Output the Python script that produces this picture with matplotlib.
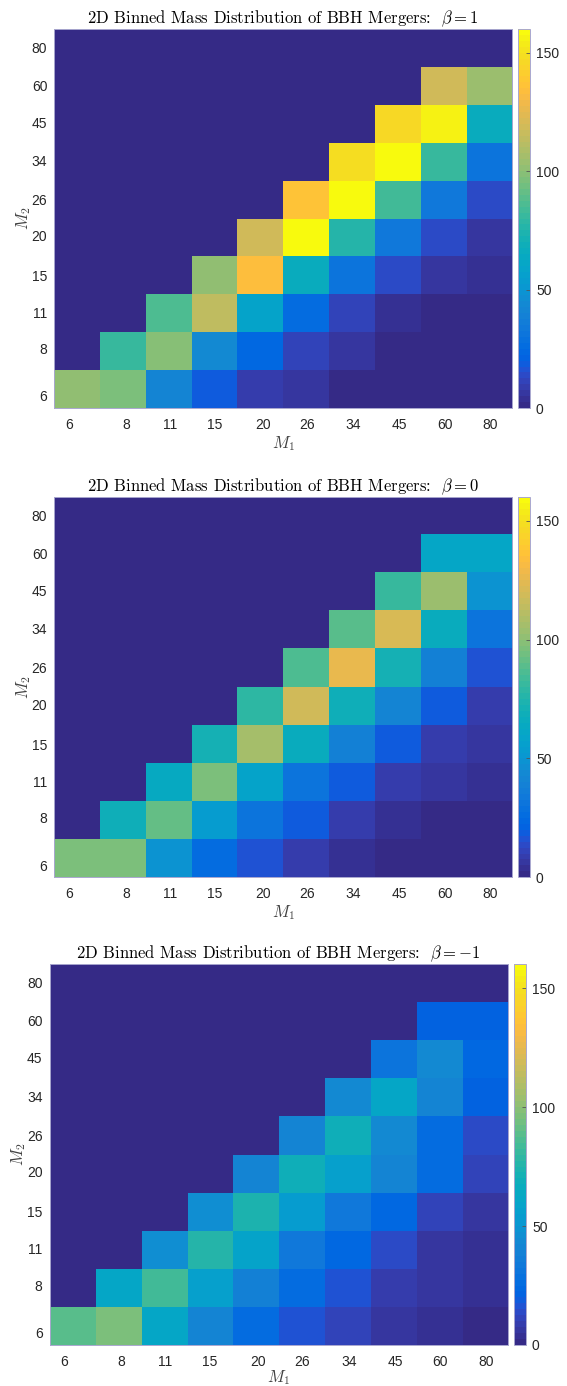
import numpy as np
import matplotlib
matplotlib.use("Agg")
import matplotlib.pyplot as plt
from matplotlib.colors import ListedColormap

plt.rcParams["font.family"] = ["Liberation Sans", "DejaVu Sans"]
plt.rcParams["mathtext.fontset"] = "cm"

# MATLAB parula, 64 levels
parula = ListedColormap([
    [0.2081, 0.1663, 0.5292], [0.2116, 0.1898, 0.5777], [0.2123, 0.2138, 0.6270],
    [0.2081, 0.2386, 0.6771], [0.1959, 0.2645, 0.7279], [0.1707, 0.2919, 0.7792],
    [0.1253, 0.3242, 0.8303], [0.0591, 0.3598, 0.8683], [0.0117, 0.3875, 0.8820],
    [0.0060, 0.4086, 0.8828], [0.0165, 0.4266, 0.8786], [0.0329, 0.4430, 0.8720],
    [0.0498, 0.4586, 0.8641], [0.0629, 0.4737, 0.8554], [0.0723, 0.4887, 0.8467],
    [0.0779, 0.5040, 0.8384], [0.0793, 0.5200, 0.8312], [0.0749, 0.5375, 0.8263],
    [0.0641, 0.5570, 0.8240], [0.0488, 0.5772, 0.8228], [0.0343, 0.5966, 0.8199],
    [0.0265, 0.6137, 0.8135], [0.0239, 0.6287, 0.8038], [0.0231, 0.6418, 0.7913],
    [0.0228, 0.6535, 0.7768], [0.0267, 0.6642, 0.7607], [0.0384, 0.6743, 0.7436],
    [0.0590, 0.6838, 0.7254], [0.0843, 0.6928, 0.7062], [0.1133, 0.7015, 0.6859],
    [0.1453, 0.7098, 0.6646], [0.1801, 0.7177, 0.6424], [0.2178, 0.7250, 0.6193],
    [0.2586, 0.7317, 0.5954], [0.3022, 0.7376, 0.5712], [0.3482, 0.7424, 0.5473],
    [0.3953, 0.7459, 0.5244], [0.4420, 0.7481, 0.5033], [0.4871, 0.7491, 0.4840],
    [0.5300, 0.7491, 0.4661], [0.5709, 0.7485, 0.4494], [0.6099, 0.7473, 0.4337],
    [0.6473, 0.7456, 0.4188], [0.6834, 0.7435, 0.4044], [0.7184, 0.7411, 0.3905],
    [0.7525, 0.7384, 0.3768], [0.7858, 0.7356, 0.3633], [0.8185, 0.7327, 0.3498],
    [0.8507, 0.7299, 0.3360], [0.8824, 0.7274, 0.3217], [0.9139, 0.7258, 0.3063],
    [0.9450, 0.7261, 0.2886], [0.9739, 0.7314, 0.2666], [0.9938, 0.7455, 0.2403],
    [0.9990, 0.7653, 0.2164], [0.9955, 0.7861, 0.1967], [0.9880, 0.8066, 0.1794],
    [0.9789, 0.8271, 0.1633], [0.9697, 0.8481, 0.1475], [0.9626, 0.8705, 0.1309],
    [0.9589, 0.8949, 0.1132], [0.9598, 0.9218, 0.0948], [0.9661, 0.9514, 0.0755],
    [0.9763, 0.9831, 0.0538],
])

mass_labels = ["6", "8", "11", "15", "20", "26", "34", "45", "60", "80"]

# merger counts: rows are M2 bins (6 first), columns are M1 bins
counts_beta_1 = [
    [101, 96, 41, 19, 9, 5, 1, 1, 1, 1],
    [0, 81, 98, 44, 24, 11, 6, 1.5, 1, 1],
    [0, 0, 87, 114, 58, 27, 12, 4, 1.5, 1.5],
    [0, 0, 0, 101, 134, 65, 31, 14, 5, 3],
    [0, 0, 0, 0, 119, 158, 76, 34, 14, 5],
    [0, 0, 0, 0, 0, 136, 158, 84, 34, 14],
    [0, 0, 0, 0, 0, 0, 149, 158, 81, 31],
    [0, 0, 0, 0, 0, 0, 0, 146, 157, 66],
    [0, 0, 0, 0, 0, 0, 0, 0, 119, 104],
    [0, 0, 0, 0, 0, 0, 0, 0, 0, 0],
]
counts_beta_0 = [
    [96, 96, 49, 27, 16, 9, 4, 1, 1, 1],
    [0, 69, 91, 54, 32, 19, 9, 4, 2, 2],
    [0, 0, 64, 97, 59, 32, 19, 9, 5, 3],
    [0, 0, 0, 71, 106, 66, 39, 19, 9, 5],
    [0, 0, 0, 0, 79, 119, 69, 41, 19, 9],
    [0, 0, 0, 0, 0, 86, 126, 71, 39, 16],
    [0, 0, 0, 0, 0, 0, 89, 122, 66, 31],
    [0, 0, 0, 0, 0, 0, 0, 81, 104, 49],
    [0, 0, 0, 0, 0, 0, 0, 0, 60, 61],
    [0, 0, 0, 0, 0, 0, 0, 0, 0, 0],
]
counts_beta_m1 = [
    [89, 96, 61, 42, 25, 16, 11, 7, 3, 1],
    [0, 61, 83, 57, 39, 25, 16, 9, 5, 3],
    [0, 0, 46, 76, 59, 34, 24, 14, 6, 4],
    [0, 0, 0, 46, 74, 54, 34, 24, 12, 6],
    [0, 0, 0, 0, 42, 69, 56, 40, 25, 11],
    [0, 0, 0, 0, 0, 42, 69, 44, 26, 14],
    [0, 0, 0, 0, 0, 0, 44, 61, 42, 21],
    [0, 0, 0, 0, 0, 0, 0, 30, 44, 24],
    [0, 0, 0, 0, 0, 0, 0, 0, 21, 21],
    [0, 0, 0, 0, 0, 0, 0, 0, 0, 0],
]
betas = ["1", "0", "-1"]
panels = [counts_beta_1, counts_beta_0, counts_beta_m1]

# tick spots in bin units (first label sits off-centre)
tick_pos = [-0.18, 1.07, 2.03, 3.0, 4.05, 5.01, 6.03, 7.04, 8.02, 9.02]

W, H = 567, 1386
fig = plt.figure(figsize=(W / 100, H / 100), dpi=100)

def px_rect(x0, x1, y0, y1):
    return [x0 / W, 1 - y1 / H, (x1 - x0) / W, (y1 - y0) / H]

# pixel boxes: (axes x0, x1, y0, y1, colorbar x0, x1, xlabel pad)
boxes = [
    (54.2, 512.3, 29.0, 408.0, 518.0, 530.4, 1.5),
    (54.2, 512.3, 497.0, 877.3, 518.0, 530.4, 1.5),
    (49.5, 508.0, 964.3, 1345.0, 514.0, 526.4, -0.5),
]
edge = "#a9a7cf"

for counts, beta, (x0, x1, y0, y1, c0, c1, lpad) in zip(panels, betas, boxes):
    ax = fig.add_axes(px_rect(x0, x1, y0, y1))
    cax = fig.add_axes(px_rect(c0, c1, y0, y1))
    im = ax.imshow(np.array(counts, dtype=float), cmap=parula, vmin=0, vmax=160,
                   origin="lower", aspect="auto", interpolation="nearest")
    ax.set_xticks(tick_pos)
    ax.set_xticklabels(mass_labels)
    ax.set_yticks(tick_pos)
    ax.set_yticklabels(mass_labels)
    ax.tick_params(length=0, labelsize=10, colors="#262626", pad=7)
    ax.tick_params(axis="y", pad=5)
    for s in ax.spines.values():
        s.set_color(edge)
        s.set_linewidth(0.7)
    ax.set_title("2D Binned Mass Distribution of BBH Mergers:  $\\beta = %s$" % beta,
                 fontsize=12, pad=4, family="cmr10")
    ax.set_xlabel(r"$M_1$", fontsize=12, labelpad=lpad, color="#404040")
    ax.set_ylabel(r"$M_2$", fontsize=12, labelpad=-1, color="#404040")

    cb = fig.colorbar(im, cax=cax, ticks=[0, 50, 100, 150])
    cb.outline.set_edgecolor(edge)
    cb.outline.set_linewidth(0.7)
    cax.tick_params(direction="in", length=3, width=0.6, color="#555555",
                    labelsize=10, labelcolor="#262626", pad=4)

fig.savefig("out.png", dpi=100)
